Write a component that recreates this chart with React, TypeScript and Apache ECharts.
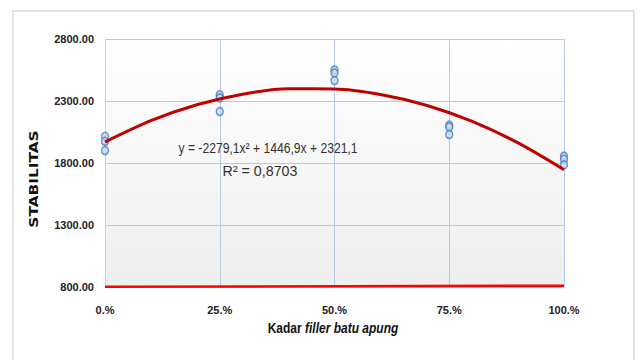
import React, { useEffect, useRef } from "react";
import * as echarts from "echarts";

const xTicks = [0, 25, 50, 75, 100];
const stabilityPoints: [number, number][] = [
  [0, 2015], [0, 1975], [0, 1900],
  [25, 2350], [25, 2325], [25, 2215],
  [50, 2550], [50, 2525], [50, 2465],
  [75, 2105], [75, 2090], [75, 2030],
  [100, 1855], [100, 1830], [100, 1785],
];
const trendX = [0, 10, 20, 30, 40, 50, 60, 70, 80, 90, 100];
const trendY = [1969, 2141, 2270, 2355, 2398, 2397, 2353, 2266, 2136, 1962, 1746];
const baseX = [0, 100];
const baseY = [802, 811];
const equationText = "y = -2279,1x² + 1446,9x + 2321,1";
const r2Text = "R² = 0,8703";

export default function App() {
  const ref = useRef<HTMLDivElement>(null);
  useEffect(() => {
    if (!ref.current) return;
    const chart = echarts.init(ref.current, null, { renderer: "svg" });
    const font = "'Liberation Sans', Arial, sans-serif";
    chart.setOption({
      animation: false,
      backgroundColor: "#ffffff",
      grid: {
        left: 105,
        top: 39,
        right: 76,
        bottom: 73,
        show: true,
        borderWidth: 0,
        backgroundColor: new echarts.graphic.LinearGradient(0, 0, 0, 1, [
          { offset: 0, color: "#ffffff" },
          { offset: 1, color: "#eeeeee" },
        ]),
      },
      xAxis: {
        type: "value",
        min: 0,
        max: 100,
        interval: 25,
        axisLine: { show: false },
        axisTick: { show: false },
        splitLine: { show: true, lineStyle: { color: "#b4cbec", width: 1 } },
        axisLabel: {
          formatter: (v: number) => (xTicks.includes(v) ? `${v}.%` : ""),
          fontFamily: font,
          fontWeight: "bold",
          fontSize: 11,
          color: "#222222",
          margin: 17,
        },
      },
      yAxis: {
        type: "value",
        min: 800,
        max: 2800,
        interval: 500,
        axisLine: { show: true, lineStyle: { color: "#d0d0d0", width: 1 } },
        axisTick: { show: false },
        splitLine: { show: true, lineStyle: { color: "#b4cbec", width: 1 } },
        axisLabel: {
          formatter: (v: number) => v.toFixed(2),
          fontFamily: font,
          fontWeight: "bold",
          fontSize: 11,
          color: "#222222",
          margin: 11,
        },
      },
      graphic: [
        {
          type: "rect",
          shape: { x: 13, y: 11, width: 621, height: 360 },
          style: { fill: "none", stroke: "#d9d9d9", lineWidth: 1.5 },
          z: 0,
        },
        {
          type: "text",
          x: 34,
          y: 179,
          rotation: Math.PI / 2,
          scaleX: 1.28,
          style: {
            text: "STABILITAS",
            fontFamily: "'DejaVu Sans', sans-serif",
            fontWeight: "bold",
            fontSize: 12,
            fill: "#111111",
            align: "center",
            verticalAlign: "middle",
          },
          z: 10,
        },
        {
          type: "text",
          x: 333,
          y: 328,
          scaleX: 0.8,
          style: {
            text: "{a|Kadar }{b|filler batu apung}",
            align: "center",
            verticalAlign: "middle",
            rich: {
              a: { fontFamily: font, fontSize: 15, fontWeight: "bold", fill: "#111111" },
              b: { fontFamily: font, fontSize: 15, fontWeight: "bold", fontStyle: "italic", fill: "#111111" },
            },
          },
          z: 10,
        },
        {
          type: "text",
          x: 268,
          y: 148,
          scaleX: 0.81,
          style: {
            text: equationText,
            fontFamily: font,
            fontSize: 15,
            fill: "#333333",
            align: "center",
            verticalAlign: "middle",
          },
          z: 10,
        },
        {
          type: "text",
          x: 260,
          y: 171,
          scaleX: 0.95,
          style: {
            text: r2Text,
            fontFamily: font,
            fontSize: 15,
            fill: "#333333",
            align: "center",
            verticalAlign: "middle",
          },
          z: 10,
        },
      ],
      series: [
        {
          type: "scatter",
          data: stabilityPoints,
          symbol: "circle",
          symbolSize: [7, 8],
          itemStyle: { color: "#c6d9f0", borderColor: "#4a7ebb", borderWidth: 1.5 },
          z: 3,
        },
        {
          type: "line",
          data: trendX.map((x, i) => [x, trendY[i]]),
          smooth: 0.3,
          showSymbol: false,
          lineStyle: { color: "#c00000", width: 3 },
          z: 4,
        },
        {
          type: "line",
          data: baseX.map((x, i) => [x, baseY[i]]),
          showSymbol: false,
          lineStyle: { color: "#ff0000", width: 2.5 },
          z: 4,
        },
      ],
    });
    return () => chart.dispose();
  }, []);
  return (
    <div
      ref={ref}
      style={{ position: "fixed", left: 0, top: 0, width: 640, height: 360 }}
    />
  );
}
